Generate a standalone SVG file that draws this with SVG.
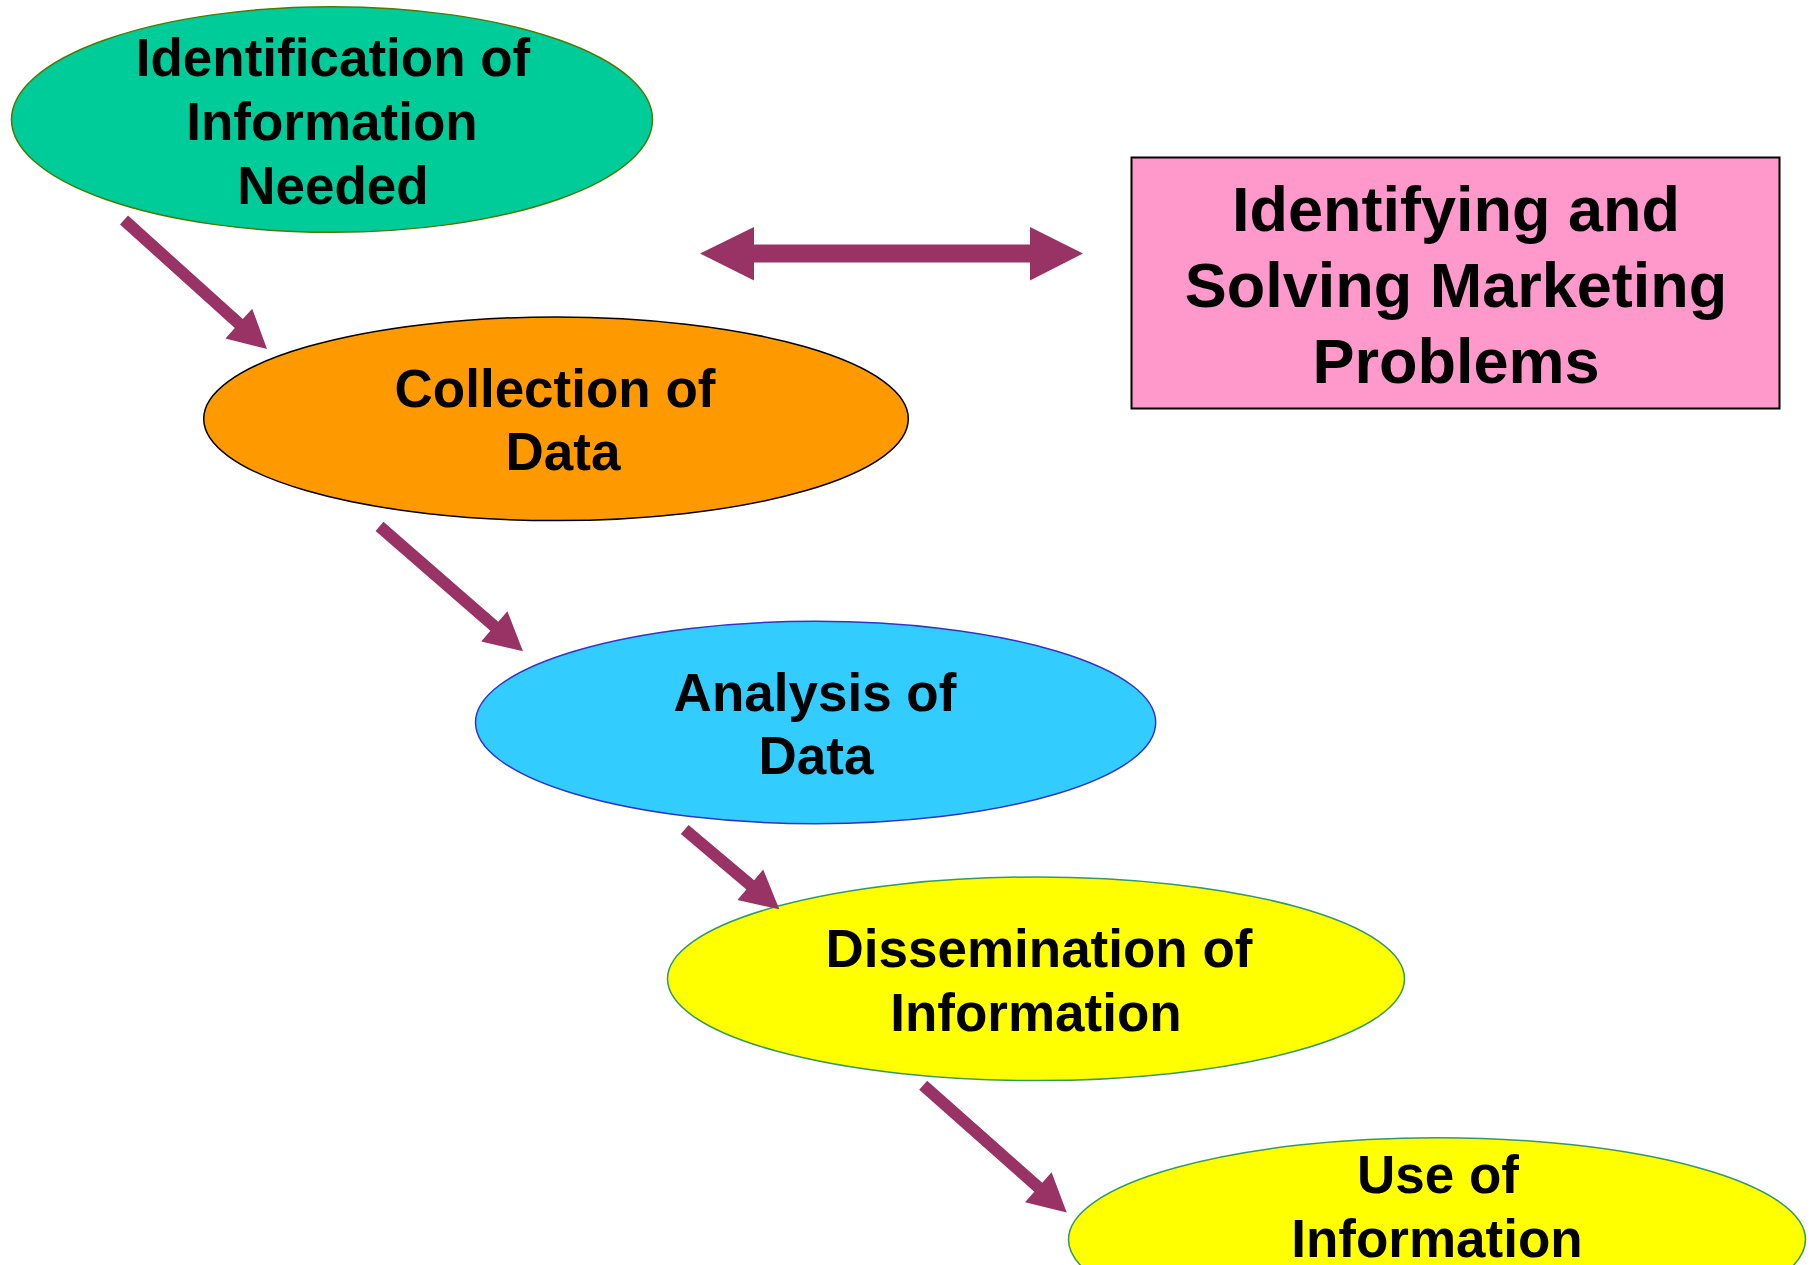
<svg xmlns="http://www.w3.org/2000/svg" width="1814" height="1265" viewBox="0 0 1814 1265">
<style>
text{font-family:"Liberation Sans",Arial,sans-serif;font-weight:bold;fill:#000;text-anchor:middle}
.t53{font-size:53px}
.t63{font-size:63px}
.arr{fill:#993366}
</style>
<defs>
<polygon id="diag" points="0,-6 -38,-6 -38,-20 0,0 -38,20 -38,6"/>
</defs>
<rect width="1814" height="1265" fill="#fff"/>
<g id="node-identification">
<ellipse cx="332" cy="119.5" rx="320.5" ry="112.8" fill="#00CC99" stroke="#4d7a00" stroke-width="1.5"/>
<text class="t53" x="333" y="76">Identification of</text>
<text class="t53" x="332" y="139.5">Information</text>
<text class="t53" x="333" y="203.5">Needed</text>
</g>
<g id="node-collection">
<ellipse cx="556" cy="418.8" rx="352.3" ry="101.8" fill="#FF9900" stroke="#000" stroke-width="1.5"/>
<text class="t53" x="555" y="407">Collection of</text>
<text class="t53" x="563" y="470">Data</text>
</g>
<g id="node-analysis">
<ellipse cx="815.6" cy="722.5" rx="340.1" ry="101.2" fill="#33CCFF" stroke="#3333CC" stroke-width="1.5"/>
<text class="t53" x="815" y="711">Analysis of</text>
<text class="t53" x="816" y="774">Data</text>
</g>
<g id="node-dissemination">
<ellipse cx="1036" cy="978.8" rx="368.5" ry="101.8" fill="#FFFF00" stroke="#339966" stroke-width="1.5"/>
<text class="t53" x="1039" y="967">Dissemination of</text>
<text class="t53" x="1036" y="1031">Information</text>
</g>
<g id="node-use">
<ellipse cx="1437" cy="1239.5" rx="368.5" ry="101.8" fill="#FFFF00" stroke="#339966" stroke-width="1.5"/>
<text class="t53" x="1438" y="1193">Use of</text>
<text class="t53" x="1437" y="1257">Information</text>
</g>
<g id="node-problems">
<rect x="1131.5" y="157.5" width="648" height="251" fill="#FF99CC" stroke="#000" stroke-width="2"/>
<text class="t63" x="1456" y="231">Identifying and</text>
<text class="t63" x="1456" y="307">Solving Marketing</text>
<text class="t63" x="1456" y="383">Problems</text>
</g>
<g id="connectors" class="arr">
<path d="M0,-6H154.6V-20L192.6,0L154.6,20V6H0Z" transform="translate(124,220) rotate(42.05)"/>
<path d="M0,-6H152.2V-20L190.2,0L152.2,20V6H0Z" transform="translate(379.5,526.4) rotate(41.04)"/>
<path d="M0,-6H85.8V-20L123.8,0L85.8,20V6H0Z" transform="translate(684.7,829.5) rotate(40.15)"/>
<path d="M0,-6H153.8V-20L191.8,0L153.8,20V6H0Z" transform="translate(923.2,1085.2) rotate(41.55)"/>
<polygon points="700,253.5 754,227 754,244.5 1030,244.5 1030,227 1083,253.5 1030,280.5 1030,262.5 754,262.5 754,280.5"/>
</g>
</svg>
